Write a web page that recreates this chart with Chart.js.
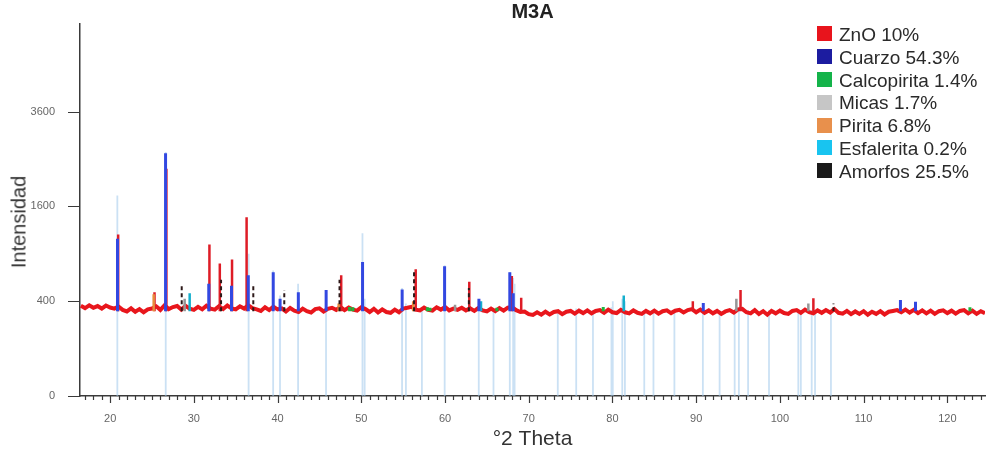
<!DOCTYPE html>
<html lang="es">
<head>
<meta charset="UTF-8">
<title>M3A</title>
<script src="https://cdn.jsdelivr.net/npm/chart.js"></script>
<style>
  body { margin: 0; background: #fff; }
  #wrap { position: relative; width: 990px; height: 454px; }
  #leyenda { position: absolute; left: 817px; top: 24px; font-family: Arial, "Liberation Sans", sans-serif; font-size: 19px; color: #2a2a2a; }
  #leyenda div { height: 22.8px; line-height: 22.8px; white-space: nowrap; }
  #leyenda span { display: inline-block; width: 15px; height: 15px; margin-right: 7px; vertical-align: middle; position: relative; top: -2px; }
  #tituloY { position: absolute; left: 19px; top: 222px; transform: translate(-50%, -50%) rotate(-90deg); font-family: Arial, "Liberation Sans", sans-serif; font-size: 20px; color: #333; white-space: nowrap; }
</style>
</head>
<body>
<div id="wrap">
  <canvas id="difractograma" width="990" height="454"></canvas>
  <div id="tituloY">Intensidad</div>
  <div id="leyenda"></div>
</div>
<script>
// barrido medido (cuentas), paso fijo en 2theta
const scanStart = 16.5;
const scanStep = 0.5;
const counts = [
  362, 344, 366, 346, 360, 340, 364, 348,
  340, 356, 330, 318, 342, 316, 336, 312, 334, 340,
  358, 330, 366, 336, 352, 360, 332, 362, 340, 330,
  354, 334, 362, 340, 332, 358, 336, 364, 342, 334,
  358, 340, 366, 344, 334, 322, 350, 328, 354, 334,
  342, 318, 344, 324, 314, 340, 320, 310, 336, 342,
  318, 338, 346, 330, 352, 328, 348, 332, 324, 350,
  336, 314, 338, 310, 334, 314, 308, 332, 312, 340,
  346, 354, 332, 326, 348, 330, 324, 350, 332, 352,
  326, 340, 330, 346, 326, 342, 322, 346, 326, 318,
  340, 320, 344, 324, 348, 352, 328, 314, 318, 298,
  292, 312, 294, 316, 296, 314, 320, 298, 316, 322,
  302, 324, 306, 326, 304, 322, 328, 308, 332, 312,
  306, 330, 312, 304, 326, 308, 300, 322, 304, 324,
  302, 320, 326, 306, 324, 330, 310, 328, 336, 312,
  332, 308, 326, 304, 322, 300, 318, 328, 310, 334,
  338, 312, 304, 328, 300, 320, 294, 322, 304, 324,
  306, 300, 322, 328, 308, 332, 312, 304, 326, 308,
  328, 310, 336, 308, 302, 322, 298, 318, 300, 320,
  294, 316, 300, 320, 296, 316, 322, 328, 312, 332,
  310, 330, 306, 326, 304, 324, 300, 320, 326, 306,
  324, 302, 322, 328, 304, 324, 300, 320, 304
];

// lineas de referencia (patron de cuarzo)
const refAngles = [20.86, 26.64, 36.54, 39.47, 40.29, 42.45, 45.79, 50.14, 50.4, 54.87, 55.33, 57.24,
  59.96, 64.03, 65.79, 67.74, 68.14, 68.31, 73.47, 75.67, 77.67, 79.88, 80.04, 81.17, 81.49, 83.8,
  84.9, 87.4, 90.8, 92.8, 94.6, 95.1, 96.2, 98.7, 102.2, 102.5, 103.8, 104.2, 106.1];
const refTops = [1790, 2650, 900, 700, 450, 560, 500, 1180, 420, 520, 380, 330,
  760, 380, 330, 680, 620, 560, 330, 340, 330, 350, 400, 420, 400, 330,
  330, 330, 340, 330, 330, 330, 330, 330, 320, 320, 330, 330, 320];

// picos por fase [2theta, cuentas]
const znoPeaks = [[20.96, 1160], [25.3, 480], [26.72, 2300], [31.86, 1020], [33.1, 780], [34.56, 830],
  [36.3, 1420], [47.6, 650], [56.5, 715], [62.9, 580], [67.98, 640], [69.1, 430], [89.6, 400],
  [95.3, 500], [104.0, 425]];
const cuarzoPeaks = [[20.88, 1100], [26.62, 2620], [31.78, 560], [34.5, 540], [36.5, 650], [39.48, 680],
  [40.3, 420], [42.48, 480], [45.8, 500], [50.15, 800], [54.88, 505], [59.95, 750], [64.05, 420],
  [67.74, 680], [68.15, 470], [90.85, 385], [114.4, 410], [116.2, 395]];
const calcopiritaPeaks = [[48.6, 352], [49.0, 350], [57.9, 350], [58.2, 346], [66.2, 346], [78.9, 352], [122.7, 350]];
const micasPeaks = [[28.9, 420], [61.2, 370], [94.8, 420], [103.4, 380]];
const piritaPeaks = [[25.2, 460], [47.3, 380], [56.2, 400]];
const esfaleritaPeaks = [[29.5, 470], [64.3, 400], [81.35, 450]];
const amorfosPeaks = [[28.55, 540], [33.25, 600], [37.1, 565], [40.8, 500], [47.4, 600], [56.3, 690],
  [62.85, 520], [106.4, 380]];

const legendLabels = ['ZnO 10%', 'Cuarzo 54.3%', 'Calcopirita 1.4%', 'Micas 1.7%', 'Pirita 6.8%', 'Esfalerita 0.2%', 'Amorfos 25.5%'];
const legendColors = ['#e8141c', '#1c1ca0', '#14b34a', '#c6c6c6', '#e8904c', '#18c4f0', '#1a1a1a'];

const xTicks = [20, 30, 40, 50, 60, 70, 80, 90, 100, 110, 120];
const yTicks = [0, 400, 1600, 3600];
const yTop = 6170;
const stickBase = 320;

// escala raiz cuadrada: se grafica sqrt(cuentas) y las etiquetas vuelven a cuentas
function raiz(c) { return Math.sqrt(c); }

function palitos(picos, base) {
  return picos.flatMap(([a, c]) => [{ x: a, y: raiz(base) }, { x: a, y: raiz(c) }, { x: a, y: null }]);
}

const barrido = counts.map((c, i) => ({ x: scanStart + i * scanStep, y: raiz(c) }));
const referencia = refAngles.flatMap((a, i) => [{ x: a, y: 0 }, { x: a, y: raiz(refTops[i]) }, { x: a, y: null }]);

function serie(label, data, color, width, order, dash) {
  return { label, data, borderColor: color, borderWidth: width, pointRadius: 0, tension: 0, fill: false, spanGaps: false, order, borderDash: dash || [] };
}

const marcasEjes = {
  id: 'marcasEjes',
  afterDraw(chart) {
    const { ctx, scales: { x, y }, chartArea } = chart;
    ctx.save();
    ctx.strokeStyle = '#3a3a3a';
    ctx.lineWidth = 1.2;
    ctx.beginPath();
    for (let v = Math.ceil(x.min); v <= x.max; v++) {
      const px = Math.round(x.getPixelForValue(v)) + 0.5;
      const len = v % 10 === 0 ? 7 : 4;
      ctx.moveTo(px, chartArea.bottom);
      ctx.lineTo(px, chartArea.bottom + len);
    }
    yTicks.forEach(t => {
      const py = Math.round(y.getPixelForValue(raiz(t))) + 0.5;
      ctx.moveTo(chartArea.left - 12, py);
      ctx.lineTo(chartArea.left, py);
    });
    ctx.stroke();
    ctx.restore();
  }
};

document.getElementById('leyenda').innerHTML = legendLabels
  .map((t, i) => `<div><span style="background:${legendColors[i]}"></span>${t}</div>`).join('');

new Chart(document.getElementById('difractograma'), {
  type: 'line',
  data: {
    datasets: [
      serie('Amorfos', palitos(amorfosPeaks, stickBase), 'rgb(45,25,25)', 2, 1, [4, 3]),
      serie('Cuarzo', palitos(cuarzoPeaks, stickBase), 'rgb(50,72,225)', 3, 2),
      serie('Esfalerita', palitos(esfaleritaPeaks, stickBase), 'rgb(20,175,205)', 2.5, 3),
      serie('Pirita', palitos(piritaPeaks, stickBase), 'rgb(232,140,60)', 2.5, 3),
      serie('Micas', palitos(micasPeaks, stickBase), 'rgb(150,150,150)', 2.5, 3),
      serie('Calcopirita', palitos(calcopiritaPeaks, stickBase), 'rgb(30,180,60)', 3, 3),
      serie('ZnO', palitos(znoPeaks, stickBase), 'rgb(222,28,38)', 2.5, 4),
      serie('Medido', barrido, 'rgb(232,22,28)', 4, 5),
      serie('Referencia', referencia, 'rgba(160,200,235,0.55)', 1.8, 10)
    ]
  },
  options: {
    responsive: false,
    animation: false,
    layout: { padding: { right: 5 } },
    plugins: {
      legend: { display: false },
      tooltip: { enabled: false },
      title: {
        display: true, text: 'M3A', fullSize: false, color: '#222',
        font: { family: 'Arial', size: 20, weight: 'bold', lineHeight: 1 },
        padding: { top: 2, bottom: 1 }
      }
    },
    scales: {
      x: {
        type: 'linear', min: 16.4, max: 124.5,
        grid: { display: false },
        border: { display: true, color: '#3a3a3a', width: 1.5 },
        afterBuildTicks: s => { s.ticks = xTicks.map(v => ({ value: v })); },
        ticks: { color: '#666', font: { family: 'Arial', size: 11 }, padding: 8, maxRotation: 0, autoSkip: false },
        title: { display: true, text: '°2 Theta', color: '#333', font: { family: 'Arial', size: 21 }, padding: { bottom: 2 } },
        afterFit: s => { s.height = 58; }
      },
      y: {
        type: 'linear', min: 0, max: raiz(yTop),
        grid: { display: false },
        border: { display: true, color: '#3a3a3a', width: 1.5 },
        afterBuildTicks: s => { s.ticks = yTicks.map(v => ({ value: raiz(v) })); },
        ticks: { color: '#666', font: { family: 'Arial', size: 11 }, padding: 17, callback: v => Math.round(v * v) },
        afterFit: s => { s.width = 80; }
      }
    }
  },
  plugins: [marcasEjes]
});
</script>
</body>
</html>
